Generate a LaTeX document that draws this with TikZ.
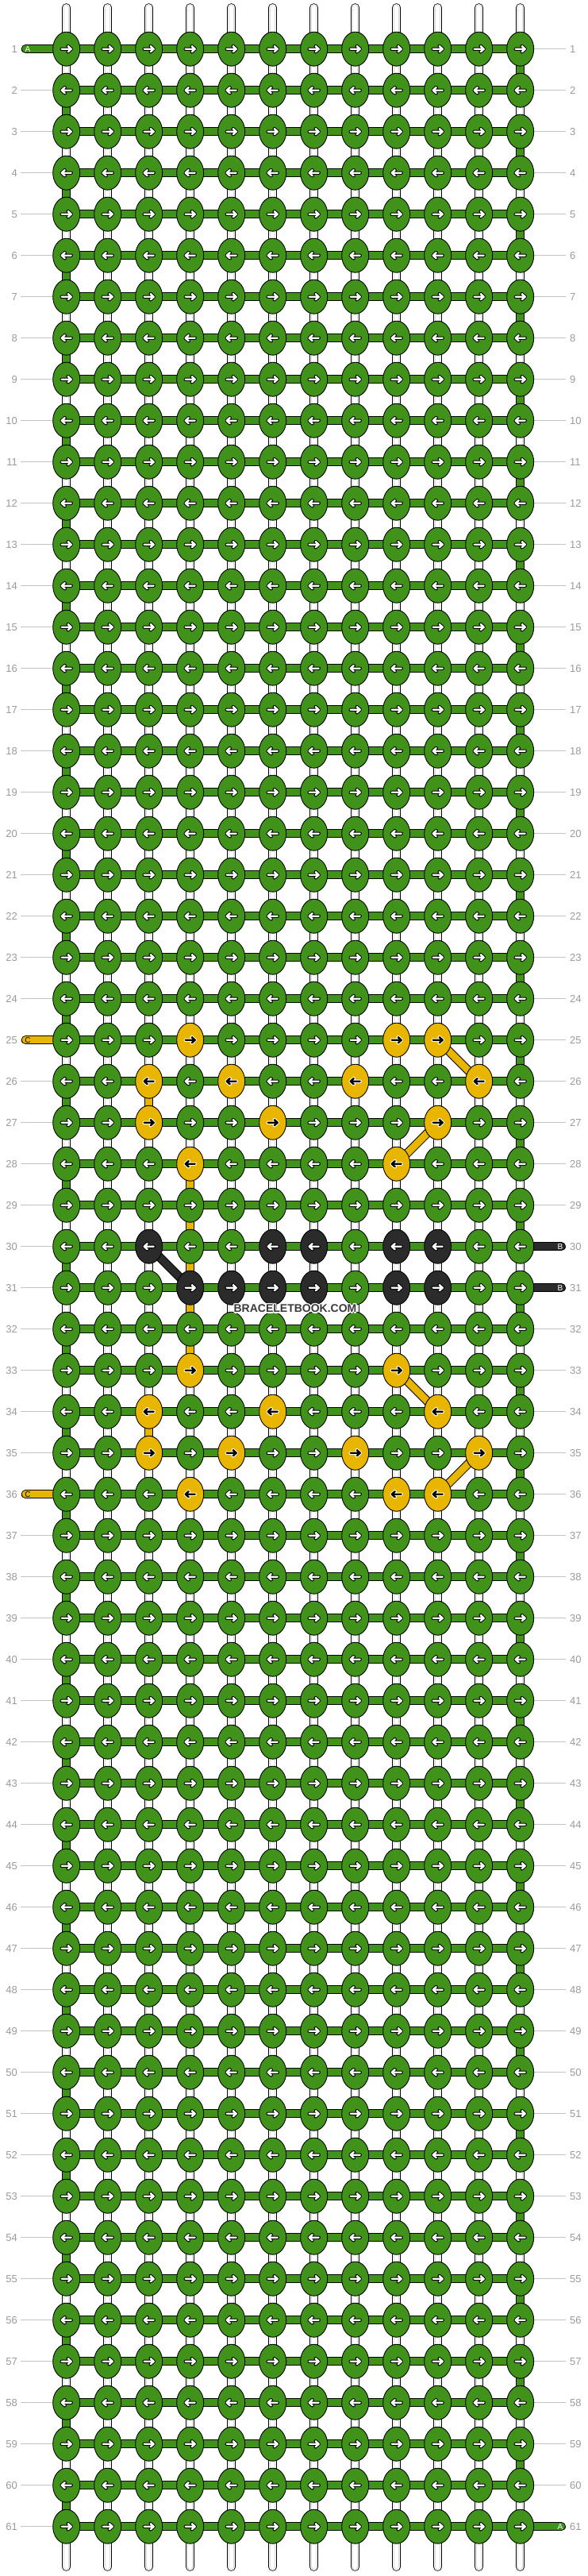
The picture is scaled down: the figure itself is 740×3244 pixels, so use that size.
\documentclass[tikz,border=0pt]{standalone}
\usepackage{fontspec}
\setmainfont{Liberation Sans}
\usepackage{xcolor}
\usepackage{tikz}
\usetikzlibrary{positioning,arrows.meta,shapes.geometric,calc}

\definecolor{knotgreen}{HTML}{41921A}
\definecolor{knotyellow}{HTML}{E8B500}
\definecolor{knotblack}{HTML}{2B2B2B}
\definecolor{numgray}{HTML}{9A9A9A}
\definecolor{linegray}{HTML}{C4C4C4}
\definecolor{stringgray}{HTML}{DADADA}
\definecolor{wmgray}{HTML}{3A3A3A}

\pgfdeclarelayer{background}
\pgfsetlayers{background,main}

% knots that are not green (row/column)
\foreach \r/\c in {25/4,25/9,25/10,26/3,26/5,26/8,26/11,27/3,27/6,27/10,28/4,28/9,
  33/4,33/9,34/3,34/6,34/10,35/3,35/5,35/8,35/11,36/4,36/9,36/10}{
  \expandafter\gdef\csname kc-\r-\c\endcsname{knotyellow}}
\foreach \r/\c in {30/3,30/6,30/7,30/9,30/10,31/4,31/5,31/6,31/7,31/9,31/10}{
  \expandafter\gdef\csname kc-\r-\c\endcsname{knotblack}}
% rows with a thread end on the left / right
\foreach \r in {1,25,36}{\expandafter\gdef\csname tagl-\r\endcsname{}}
\foreach \r in {30,31,61}{\expandafter\gdef\csname tagr-\r\endcsname{}}
\def\yellowname{knotyellow}

\begin{document}
\begin{tikzpicture}[
  x=1pt, y=-1pt,
  knot/.style={ellipse, draw=black, line width=0.9pt, minimum width=34pt, minimum height=43pt, inner sep=0pt},
  arrowback/.style={line width=4.4pt, line cap=round, line join=round},
  arrowfront/.style={line width=2.4pt, line cap=round, line join=round},
  strandout/.style={line width=11pt, draw=black},
  strandin/.style={line width=9pt},
  tagout/.style={line width=11pt, draw=black, line cap=round},
  tagin/.style={line width=9pt, line cap=round},
  tagtext/.style={font=\fontsize{10}{10}\selectfont, inner sep=0pt},
  rownum/.style={font=\fontsize{13}{13}\selectfont, text=numgray, inner sep=0pt},
  numline/.style={draw=linegray, line width=0.9pt},
  wmark/.style={font=\fontsize{14}{14}\selectfont\bfseries, inner sep=0pt}
]
\useasboundingbox (0,0) rectangle (740,3244);

% Knots
\foreach \r in {1,...,61}{
  \foreach \c in {1,...,12}{
    \ifcsname kc-\r-\c\endcsname
      \edef\kcol{\csname kc-\r-\c\endcsname}
    \else
      \def\kcol{knotgreen}
    \fi
    \node[knot, fill=\kcol] (k-\r-\c) at ({31.7+52*\c}, {9.7+52*\r}) {};
    \ifodd\r\relax \def\d{1}\else \def\d{-1}\fi
    \def\afg{white}\def\abg{black}
    \ifx\kcol\yellowname \def\afg{black}\def\abg{white}\fi
    \draw[arrowback, draw=\abg] (k-\r-\c.center) ++({-6*\d},0) -- ++({12*\d},0)
      ++({-4*\d},-3.6) -- ++({4*\d},3.6) -- ++({-4*\d},3.6);
    \draw[arrowfront, draw=\afg] (k-\r-\c.center) ++({-6*\d},0) -- ++({12*\d},0)
      ++({-4*\d},-3.6) -- ++({4*\d},3.6) -- ++({-4*\d},3.6);
  }
}

% Row numbers
\foreach \r in {1,...,61}{
  \node[rownum, anchor=east] (ln-\r) at (22, {9.7+52*\r}) {\r};
  \node[rownum, anchor=west] (rn-\r) at (718, {9.7+52*\r}) {\r};
}

\begin{pgfonlayer}{background}
% Strings
\foreach \c in {1,...,12}{
  \coordinate (top-\c) at ({31.7+52*\c}, 9.5);
  \coordinate (bot-\c) at ({31.7+52*\c}, 3232.5);
  \foreach \w/\col in {10.6pt/black,9pt/white,7pt/stringgray,5.4pt/white}
    \draw[line width=\w, draw=\col, line cap=round] (top-\c) -- (bot-\c);
}

% Rows of the working thread
\foreach \r in {1,...,61}{
  \ifcsname tagl-\r\endcsname\else
    \draw[numline, shorten <=4pt] (ln-\r.east) -- (k-\r-1.west);
  \fi
  \ifcsname tagr-\r\endcsname\else
    \draw[numline, shorten >=5pt] (k-\r-12.east) -- (rn-\r.west);
  \fi
  \draw[strandout] (k-\r-1.center) -- (k-\r-12.center);
  \draw[strandin, draw=knotgreen] (k-\r-1.center) -- (k-\r-12.center);
}

% Turns at the edges
\foreach \r in {1,...,60}{
  \pgfmathtruncatemacro\rn{\r+1}
  \ifodd\r\relax \def\ce{12}\else \def\ce{1}\fi
  \draw[strandout] (k-\r-\ce.center) -- (k-\rn-\ce.center);
  \draw[strandin, draw=knotgreen] (k-\r-\ce.center) -- (k-\rn-\ce.center);
}

% Coloured threads
\foreach \ra/\ca/\rb/\cb/\col in {26/3/27/3/knotyellow, 28/4/29/4/knotyellow,
  29/4/30/4/knotyellow, 30/4/31/4/knotyellow, 31/4/32/4/knotyellow,
  32/4/33/4/knotyellow, 34/3/35/3/knotyellow, 25/10/26/11/knotyellow,
  27/10/28/9/knotyellow, 33/9/34/10/knotyellow, 35/11/36/10/knotyellow,
  30/3/31/4/knotblack}{
  \draw[strandout] (k-\ra-\ca.center) -- (k-\rb-\cb.center);
  \draw[strandin, draw=\col] (k-\ra-\ca.center) -- (k-\rb-\cb.center);
}

% Thread ends
\foreach \r/\col/\txt/\tc in {1/knotgreen/A/white, 25/knotyellow/C/black, 36/knotyellow/C/black}{
  \coordinate (el-\r) at (32.2, {9.7+52*\r});
  \draw[tagout] (el-\r) -- (k-\r-1.center);
  \draw[tagin, draw=\col] (el-\r) -- (k-\r-1.center);
  \node[tagtext, text=\tc] (tl-\r) at (35, {9.7+52*\r}) {\txt};
}
\foreach \r/\col/\txt/\tc in {30/knotblack/B/white, 31/knotblack/B/white, 61/knotgreen/A/white}{
  \coordinate (er-\r) at (707.5, {9.7+52*\r});
  \draw[tagout] (k-\r-12.center) -- (er-\r);
  \draw[tagin, draw=\col] (k-\r-12.center) -- (er-\r);
  \node[tagtext, text=\tc] (tr-\r) at (706, {9.7+52*\r}) {\txt};
}
\end{pgfonlayer}

% Watermark
\foreach \a in {0,45,...,315}
  \node[wmark, text=white, shift={(\a:1.3)}] (wmh-\a) at (372,1648) {BRACELETBOOK.COM};
\node[wmark, text=wmgray] (wm) at (372,1648) {BRACELETBOOK.COM};

\end{tikzpicture}
\end{document}
